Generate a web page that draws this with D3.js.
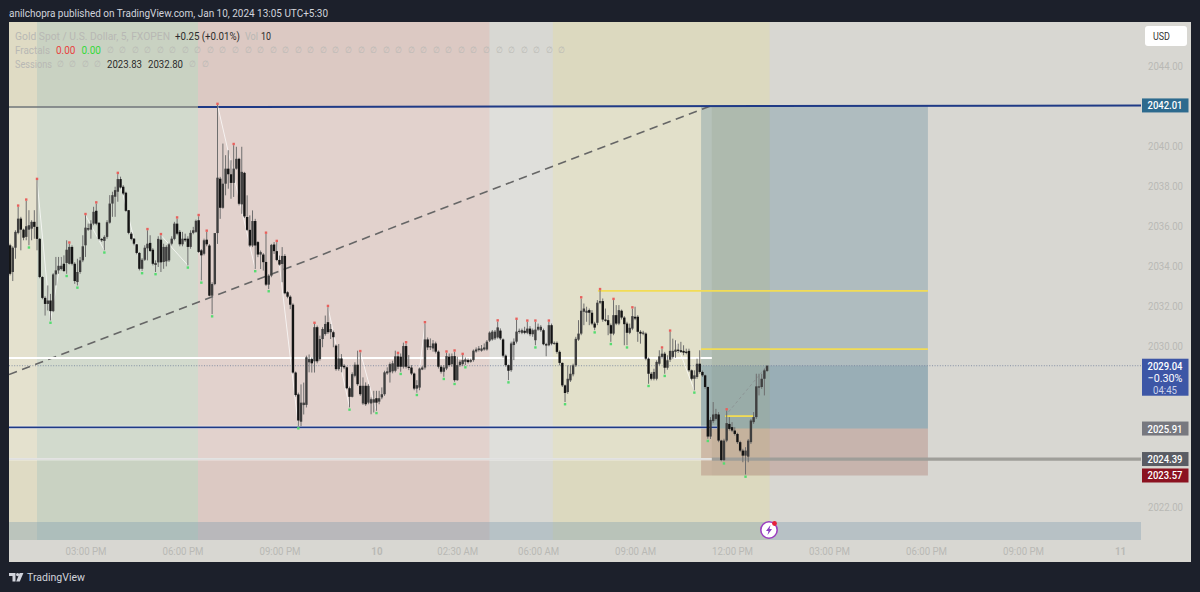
<!DOCTYPE html>
<html><head><meta charset="utf-8">
<script src="https://cdn.jsdelivr.net/npm/d3@7"></script>
<style>html,body{margin:0;padding:0;background:#1c202b;overflow:hidden}svg{display:block}text{font-family:Roboto,"Noto Sans",sans-serif}</style>
</head><body><svg id="c" width="1200" height="592"></svg>
<script>
// ---- data: 5-minute bars of XAUUSD, first bar index = 1
const opens=[2035.04,2033.71,2034.92,2035.66,2036.37,2035.82,2035.46,2035.82,2035.87,2036.21,
2035.96,2035.36,2033.46,2032.42,2032.12,2032.29,2031.76,2033.59,2033.79,2033.86,
2034.12,2034.16,2034.12,2034.96,2034.12,2033.21,2033.71,2034.29,2035.04,2035.82,
2035.82,2036.12,2036.76,2036.16,2035.36,2035.26,2035.46,2036.17,2037.12,2037.46,
2037.71,2038.34,2037.96,2037.66,2036.79,2035.62,2035.37,2035.09,2034.66,2033.87,
2034.32,2034.89,2035.16,2034.82,2034.06,2034.19,2035.32,2034.21,2034.24,2034.29,
2035.12,2035.36,2036.12,2035.71,2035.09,2035.37,2035.37,2034.96,2035.66,2035.71,
2036.29,2034.79,2034.62,2035.32,2035.03,2032.53,2033.11,2035.65,2038.36,2036.91,
2038.11,2038.86,2038.58,2038.15,2038.86,2039.35,2037.08,2038.65,2036.45,2035.81,
2035.03,2036.25,2035.2,2034.58,2034.58,2034.21,2033.08,2033.53,2035.08,2034.75,
2034.31,2034.11,2034.51,2032.7,2032.48,2032.08,2028.7,2027.61,2026.25,2027.08,
2027.09,2029.21,2029.37,2029.26,2030.96,2029.37,2030.37,2030.62,2031.21,2030.71,
2030.71,2030.04,2028.87,2029.4,2029.04,2028.96,2027.92,2027.49,2028.54,2029.09,
2028.04,2027.16,2028.04,2027.2,2027.16,2027.2,2027.42,2027.25,2027.46,2027.62,
2028.66,2028.71,2028.76,2028.79,2029.51,2029.49,2028.99,2030.02,2028.99,2028.95,
2028.65,2027.9,2027.95,2028.85,2028.95,2030.35,2029.95,2029.9,2030.15,2029.74,
2028.99,2028.74,2028.9,2029.49,2029.12,2029.52,2028.32,2029.07,2029.12,2029.24,
2029.32,2029.24,2029.32,2029.75,2029.82,2029.79,2029.85,2029.85,2030.29,2030.35,
2030.4,2030.45,2030.79,2030.35,2029.54,2029.07,2028.82,2030.07,2030.24,2030.73,
2030.68,2030.78,2030.68,2030.89,2030.61,2030.31,2030.84,2030.81,2030.81,2030.11,
2030.06,2031.06,2030.14,2030.18,2029.73,2029.18,2028.06,2027.73,2028.31,2028.61,
2029.06,2030.34,2030.64,2031.73,2031.68,2031.81,2031.68,2031.14,2031.18,2032.18,
2032.26,2031.34,2031.31,2031.06,2030.64,2031.56,2031.14,2031.78,2031.44,2031.14,
2030.68,2030.89,2031.48,2031.48,2030.73,2030.64,2030.64,2029.39,2028.64,2028.39,
2028.39,2029.14,2029.48,2029.64,2028.94,2029.34,2029.48,2029.73,2029.84,2029.81,
2029.78,2029.74,2029.78,2028.81,2028.39,2028.48,2029.14,2028.73,2028.56,2027.98,
2025.51,2026.28,2026.39,2026.61,2025.31,2024.34,2025.31,2026.14,2025.98,2025.81,
2025.64,2025.23,2024.81,2024.56,2024.51,2025.23,2026.23,2026.48,2027.98,2027.98,
2028.39,2028.78];
const closes=[2033.62,2034.92,2035.71,2036.37,2035.82,2035.42,2035.99,2036.04,2036.21,2035.96,
2035.36,2033.46,2032.42,2032.12,2032.29,2031.76,2033.59,2033.79,2034.02,2034.02,
2033.76,2034.82,2034.96,2034.12,2033.26,2033.71,2034.29,2034.99,2035.92,2035.9,
2036.12,2036.71,2036.12,2035.36,2035.29,2035.46,2036.19,2037.12,2037.54,2037.79,
2038.34,2037.92,2037.62,2036.76,2035.66,2035.36,2035.12,2034.66,2033.87,2034.32,
2034.92,2035.12,2034.76,2034.12,2034.16,2035.36,2034.19,2034.96,2034.96,2035.09,
2035.37,2036.12,2035.62,2035.09,2035.37,2035.29,2034.96,2035.66,2035.79,2036.26,
2034.71,2034.54,2035.29,2035.09,2032.53,2033.11,2035.65,2038.41,2036.91,2038.11,
2038.86,2038.58,2038.15,2038.86,2039.35,2037.11,2038.70,2036.48,2035.81,2035.03,
2036.25,2035.03,2034.58,2034.7,2034.2,2033.08,2033.53,2035.06,2034.75,2034.31,
2034.08,2034.51,2032.65,2032.48,2032.08,2028.7,2027.58,2026.31,2027.2,2027.2,
2029.46,2029.37,2029.16,2030.96,2029.26,2030.37,2030.87,2031.12,2030.71,2030.87,
2030.46,2028.87,2029.4,2028.99,2028.96,2027.92,2027.49,2028.62,2029.09,2028.12,
2027.62,2028.04,2027.12,2028.04,2027.37,2027.37,2027.2,2027.42,2027.62,2028.71,
2028.76,2029.12,2029.16,2029.51,2028.99,2028.99,2030.02,2028.99,2028.95,2028.65,
2027.9,2028.07,2028.9,2028.95,2030.35,2029.95,2030.02,2030.15,2029.74,2028.99,
2028.74,2028.95,2029.52,2029.07,2029.52,2028.32,2029.07,2029.24,2029.32,2029.35,
2029.22,2029.32,2029.79,2029.85,2029.9,2029.9,2029.95,2030.24,2030.69,2030.74,
2030.74,2030.95,2030.4,2029.54,2029.07,2028.79,2030.15,2030.24,2030.74,2030.78,
2030.81,2030.68,2030.89,2030.61,2030.81,2030.84,2030.98,2030.98,2030.11,2030.06,
2031.06,2030.14,2030.18,2029.73,2029.18,2028.06,2027.68,2028.39,2028.64,2029.06,
2030.38,2030.64,2031.78,2031.89,2031.78,2031.68,2031.14,2030.94,2032.18,2032.26,
2031.34,2031.31,2031.06,2030.64,2031.56,2031.14,2031.81,2031.44,2031.11,2030.68,
2030.93,2031.51,2031.39,2030.73,2030.64,2030.69,2029.39,2028.64,2028.39,2028.73,
2029.23,2029.51,2029.64,2028.94,2029.31,2029.78,2029.78,2029.84,2029.78,2029.73,
2029.69,2029.68,2028.81,2028.39,2028.56,2029.14,2028.73,2028.56,2027.98,2025.51,
2026.34,2026.61,2026.64,2025.31,2024.34,2025.31,2026.18,2025.89,2025.81,2025.64,
2025.23,2024.81,2024.56,2024.81,2025.31,2026.31,2026.48,2028.01,2028.01,2028.39,
2028.81,2029.04];
const highs=[2035.12,2034.99,2035.79,2036.96,2036.46,2035.87,2037.26,2036.79,2036.29,2036.79,
2038.29,2035.4,2033.5,2032.5,2033.04,2032.62,2033.65,2034.46,2034.46,2034.46,
2034.54,2035.29,2035.12,2035.04,2034.2,2034.37,2034.46,2035.54,2036.54,2036.12,
2036.29,2036.96,2037.12,2036.2,2035.4,2035.54,2036.29,2037.54,2037.71,2037.96,
2038.59,2038.46,2038.04,2037.71,2036.8,2035.7,2035.4,2035.1,2034.7,2034.4,
2035.04,2035.79,2035.54,2034.9,2034.29,2035.49,2035.54,2035.12,2035.04,2035.16,
2035.49,2036.21,2036.37,2035.8,2035.71,2035.62,2035.49,2035.79,2035.96,2036.32,
2036.49,2034.85,2035.37,2035.71,2035.1,2033.2,2033.2,2042.03,2038.45,2040.11,
2039.53,2039.78,2039.28,2040.03,2039.95,2039.4,2039.95,2038.7,2037.53,2036.53,
2036.78,2036.36,2035.25,2034.78,2034.65,2035.61,2033.6,2035.11,2035.2,2035.2,
2034.53,2034.95,2034.6,2032.75,2032.55,2032.15,2028.75,2027.7,2028.11,2028.2,
2029.54,2029.6,2029.45,2031.12,2031.04,2030.54,2030.96,2031.54,2031.96,2031.12,
2030.79,2030.1,2030.12,2029.62,2029.12,2029,2028,2028.71,2029.21,2029.79,
2029.71,2028.46,2028.21,2028.12,2027.46,2027.79,2027.79,2027.79,2027.96,2028.79,
2028.96,2029.2,2029.29,2029.79,2029.62,2029.65,2030.19,2030.15,2029.57,2029.07,
2028.7,2028.32,2028.95,2029.02,2031.15,2030.45,2030.4,2030.32,2030.24,2029.8,
2029.07,2029.07,2029.69,2029.65,2029.65,2029.74,2029.49,2029.32,2029.57,2029.45,
2029.4,2029.39,2029.85,2029.95,2030.02,2030.07,2030.15,2030.32,2030.75,2030.82,
2030.82,2031.24,2030.9,2030.4,2029.6,2029.1,2030.24,2030.4,2031.32,2030.89,
2030.89,2030.98,2031.23,2031.01,2030.89,2031.23,2031.14,2031.06,2030.89,2030.18,
2031.23,2031.14,2030.25,2030.25,2029.8,2029.2,2028.1,2029.06,2029.06,2029.14,
2030.48,2031.31,2032.39,2032.14,2031.98,2031.89,2031.81,2031.23,2032.31,2032.8,
2032.39,2031.89,2031.56,2031.14,2032.31,2032.06,2032.06,2031.84,2031.51,2031.23,
2031.14,2031.89,2031.98,2031.56,2030.81,2030.78,2030.7,2029.45,2028.73,2028.89,
2029.31,2029.81,2029.89,2029.73,2029.56,2030.73,2030.39,2030.31,2030.14,2030.23,
2030.06,2029.89,2029.89,2028.85,2028.81,2029.39,2029.81,2028.8,2028.6,2028,
2026.48,2027.23,2026.89,2026.73,2025.35,2025.4,2026.81,2026.48,2026.23,2025.98,
2025.7,2025.3,2024.9,2024.98,2025.39,2026.39,2026.73,2028.64,2028.64,2028.64,
2028.89,2029.06];
const lows=[2033.54,2033.26,2034.37,2035.59,2034.79,2035.29,2035.29,2035.04,2035.29,2035.37,
2034.79,2033.4,2032.35,2031.54,2031.79,2031.29,2031.71,2033.04,2033.62,2033.79,
2033.71,2033.62,2034.09,2034.04,2033.12,2033.04,2033.62,2034.2,2034.46,2035.76,
2035.37,2036.04,2036.04,2035.29,2035.21,2034.79,2035.37,2036.12,2036.46,2036.46,
2037.21,2037.87,2037.54,2036.71,2035.59,2035.29,2035.04,2034.59,2033.79,2033.76,
2034.26,2034.29,2034.71,2034.04,2033.71,2033.96,2033.71,2033.87,2033.99,2034.21,
2035.04,2035.29,2035.54,2034.99,2034.99,2035.21,2034.04,2034.87,2035.59,2035.66,
2034.66,2033.29,2034.54,2034.99,2032.5,2031.61,2033.05,2035.11,2036.36,2036.86,
2037.53,2037.86,2037.36,2037.45,2038.81,2037.03,2036.61,2036.4,2035.75,2034.95,
2034.95,2033.86,2034.45,2033.86,2033.78,2033.01,2032.86,2033.45,2034.61,2034.25,
2034.03,2033.2,2032.6,2032.4,2031.86,2028.65,2027.5,2026.03,2026.03,2026.61,
2026.96,2028.71,2028.7,2028.7,2029.16,2029.29,2029.96,2030.54,2030.62,2030.37,
2029.96,2028.79,2028.79,2028.71,2028.87,2027.87,2026.96,2027.46,2028.46,2028.04,
2027.54,2027.09,2027.04,2027.12,2026.62,2026.71,2026.79,2027.12,2027.37,2027.54,
2028.59,2028.2,2028.66,2028.71,2028.87,2028.74,2028.9,2028.9,2028.82,2028.57,
2027.82,2027.69,2027.82,2028.82,2028.85,2029.82,2029.82,2029.74,2029.65,2028.9,
2028.65,2028.49,2028.82,2028.99,2028.99,2028.24,2028.29,2028.99,2029.02,2029.07,
2029.15,2029.19,2029.24,2029.69,2029.75,2029.74,2029.79,2029.79,2030.22,2030.29,
2030.32,2030.39,2030.32,2029.45,2028.99,2028.32,2028.74,2029.32,2030.15,2030.64,
2030.61,2030.61,2030.61,2030.51,2030.48,2030.06,2030.78,2030.73,2030.06,2029.51,
2030.01,2030.06,2030.09,2029.64,2029.06,2027.98,2027.23,2027.64,2028.23,2028.51,
2028.98,2030.28,2030.56,2031.06,2031.23,2031.06,2031.06,2030.81,2031.06,2032.11,
2031.23,2031.23,2030.56,2030.23,2030.56,2031.06,2031.06,2031.34,2030.06,2030.06,
2030.61,2030.81,2031.31,2030.23,2030.14,2030.56,2029.31,2028.14,2028.31,2028.31,
2028.31,2029.06,2029.39,2028.64,2028.84,2029.23,2029.39,2029.44,2029.68,2029.68,
2029.56,2029.61,2028.73,2028.31,2027.81,2028.39,2028.64,2028.48,2027.89,2025.4,
2025.39,2026.18,2026.31,2025.23,2024.28,2024.28,2025.23,2025.81,2025.73,2025.56,
2025.14,2024.73,2024.23,2023.62,2024.23,2025.14,2026.14,2026.39,2027.56,2027.89,
2027.56,2028.73];
const fractalHighBars=[4,7,11,23,29,33,41,52,57,63,71,74,78,84,96,100,114,119,131,145,148,155,163,166,169,182,189,193,196,201,213,220,225,232,243,246,267];
const fractalLowBars=[8,16,22,26,36,50,55,67,72,76,92,97,108,127,137,146,152,162,166,170,186,196,207,218,224,230,238,244,255,260,266,274];
const zigzagHighBars=[11,20,29,41,57,71,78,100,119,131,155,248];
const zigzagLowBars=[16,16,36,50,67,72,92,108,127,137,152,255];
const priceTicks=[2044,2040,2038,2036,2034,2032,2030,2022];
const timeTickBars=[29,65,101,137,167,197,233,269,305,341,377,413];
const timeTickLabels=["03:00 PM","06:00 PM","09:00 PM","10","02:30 AM","06:00 AM","09:00 AM","12:00 PM","03:00 PM","06:00 PM","09:00 PM","11"];
const sessionStarts=[0.6,11,70.75,179,202.5,283];
const sessionEnds=[11,70.75,179,202.5,283,420.8];
const sessionColors=["#dfdbc4","#c9d2c2","#dcc9c3","#d8d8d3","#dcd9bf","#d8d7d2"];
const legendRow1=["Gold Spot / U.S. Dollar, 5, FXOPEN","+0.25 (+0.01%)","Vol","10"];
const sessionValues=["2023.83","2032.80"];
const currentPrice=2029.04, stopPrice=2023.57, targetPrice=2042.01, entryPrice=2025.91, markPrice=2024.39;
const rangeHigh=2041.95, rangeLow=2024.39, whiteLevel=2029.43, blueLow=2025.97, topLineLeft=2041.93;
const yellowLevels=[2032.77,2029.87,2026.53];

// ---- scales
const left=9,right=1141,top0=22,chartBottom=540,panelBottom=562,panelRight=1191;
const x=d3.scaleLinear().domain([29,269]).range([85.5,85.5+240*2.694]);
const y=d3.scaleLinear().domain([2044,2022]).range([65.5,507]);
const svg=d3.select("#c");
const barIdx=d3.range(1,opens.length+1);
const barW=2.4;

// ---- panel
svg.append("rect").attr("x",left).attr("y",top0).attr("width",panelRight-left).attr("height",panelBottom-top0).attr("fill","#d8d7d2");
svg.append("defs").append("clipPath").attr("id","plot").append("rect").attr("x",left).attr("y",top0).attr("width",right-left).attr("height",chartBottom-top0);
const g=svg.append("g").attr("clip-path","url(#plot)");

// sessions
g.selectAll("rect.s").data(sessionColors).join("rect").attr("class","s")
 .attr("x",(d,i)=>x(sessionStarts[i])).attr("width",(d,i)=>x(sessionEnds[i])-x(sessionStarts[i]))
 .attr("y",top0).attr("height",chartBottom-top0).attr("fill",d=>d);
// light range band between the two liquidity levels
g.append("rect").attr("x",x(0.6)).attr("width",x(261.5)-x(0.6)).attr("y",y(rangeHigh)).attr("height",y(rangeLow)-y(rangeHigh)).attr("fill","#fff").attr("opacity",.18);
// bottom strip
g.append("rect").attr("x",left).attr("width",right-left).attr("y",522).attr("height",18).attr("fill","#7e9bb0").attr("opacity",.36);
// position tool
const posA=257.5,posB=341.7;
g.append("rect").attr("x",x(posA)).attr("width",x(posB)-x(posA)).attr("y",y(targetPrice)).attr("height",y(entryPrice)-y(targetPrice)).attr("fill","#4f7f95").attr("opacity",.3);
g.append("rect").attr("x",x(posA)).attr("width",x(posB)-x(posA)).attr("y",y(currentPrice)).attr("height",y(entryPrice)-y(currentPrice)).attr("fill","#4f7f95").attr("opacity",.22);
g.append("rect").attr("x",x(posA)).attr("width",x(posB)-x(posA)).attr("y",y(entryPrice)).attr("height",y(stopPrice)-y(entryPrice)).attr("fill","#9a5a50").attr("opacity",.28);
g.append("rect").attr("x",x(261.5)).attr("width",x(283)-x(261.5)).attr("y",y(targetPrice)).attr("height",y(stopPrice)-y(targetPrice)).attr("fill","#6a6a40").attr("opacity",.03);

function hline(p,a,b,col,w,extra){const l=g.append("line").attr("x1",x(a)).attr("x2",x(b)).attr("y1",y(p)).attr("y2",y(p)).attr("stroke",col).attr("stroke-width",w);if(extra)l.attr("stroke-dasharray",extra);return l;}
// dashed trend
g.append("line").attr("x1",x(0.6)).attr("y1",y(2028.6)).attr("x2",x(261.5)).attr("y2",y(targetPrice)).attr("stroke","#666").attr("stroke-width",1.6).attr("stroke-dasharray","8.5 5.5");
g.append("line").attr("x1",x(266.4)).attr("y1",y(yellowLevels[2])).attr("x2",x(282)).attr("y2",y(currentPrice)).attr("stroke","#8a8f90").attr("stroke-width",.8).attr("stroke-dasharray","3 2.5");
// levels
hline(whiteLevel,0.6,261.5,"#ffffff",2);
hline(markPrice,0.6,261.5,"#ffffff",2.2); hline(markPrice,0.6,261.5,"#a9a9a6",.7);
hline(markPrice,261.5,420.8,"#9f9e99",3.2);
hline(currentPrice,0.6,420.8,"#6f7d99",.8,"1 1.6");
hline(blueLow,0.6,263.5,"#ffffff",3.2).attr("opacity",.6);
hline(blueLow,0.6,263.5,"#1f3a86",1.8);
hline(topLineLeft,0.6,70.75,"#6f7478",1.6);
g.append("line").attr("x1",x(70.75)).attr("x2",x(420.8)).attr("y1",y(topLineLeft)).attr("y2",y(targetPrice)).attr("stroke","#1f3a86").attr("stroke-width",2);
hline(yellowLevels[0],219.2,341.7,"#f2dc55",1.8);
hline(yellowLevels[1],257.5,341.7,"#f2dc55",1.8);
hline(yellowLevels[2],266.4,277,"#f2dc55",1.8);

// zigzag swing connectors
g.selectAll("line.z").data(zigzagHighBars).join("line").attr("class","z")
 .attr("x1",d=>x(d)).attr("y1",d=>y(highs[d-1]))
 .attr("x2",(d,i)=>x(zigzagLowBars[i])).attr("y2",(d,i)=>y(lows[zigzagLowBars[i]-1]))
 .attr("stroke","#fff").attr("stroke-width",.9).attr("opacity",.8);

// candles
g.selectAll("line.w").data(barIdx).join("line").attr("class","w")
 .attr("x1",d=>x(d)).attr("x2",d=>x(d)).attr("y1",d=>y(highs[d-1])).attr("y2",d=>y(lows[d-1]))
 .attr("stroke","#6e6e6e").attr("stroke-width",1);
g.selectAll("rect.b").data(barIdx).join("rect").attr("class","b")
 .attr("x",d=>x(d)-barW/2).attr("width",barW)
 .attr("y",d=>y(Math.max(opens[d-1],closes[d-1])))
 .attr("height",d=>Math.max(1.2,Math.abs(y(opens[d-1])-y(closes[d-1]))))
 .attr("fill",d=>closes[d-1]>=opens[d-1]?"#3f3f3f":"#141414");

// fractals
g.selectAll("rect.fh").data(fractalHighBars).join("rect").attr("class","fh")
 .attr("x",d=>x(d)-1.2).attr("width",2.4).attr("y",d=>y(highs[d-1])-2.4).attr("height",2.4).attr("fill","#e8605c");
g.selectAll("rect.fl").data(fractalLowBars).join("rect").attr("class","fl")
 .attr("x",d=>x(d)-1.2).attr("width",2.4).attr("y",d=>y(lows[d-1])+1).attr("height",2.4).attr("fill","#55dc70");

// axes
const fade="#b9b9b5";
const ya=d3.axisRight(y).tickValues(priceTicks).tickFormat(d3.format(".2f")).tickSize(0).tickPadding(7);
const yg=svg.append("g").attr("transform",`translate(${right},0)`).call(ya);
yg.select(".domain").remove(); yg.selectAll("text").attr("fill",fade).attr("font-size",11).attr("font-family","Roboto").attr("textLength",35).attr("lengthAdjust","spacingAndGlyphs");
const xa=d3.axisBottom(x).tickValues(timeTickBars).tickFormat((d,i)=>timeTickLabels[i]).tickSize(0).tickPadding(7);
const xg=svg.append("g").attr("transform",`translate(0,${chartBottom})`).call(xa);
xg.select(".domain").remove();
xg.selectAll("text").attr("fill",fade).attr("font-size",11).attr("font-family","Roboto")
 .attr("font-weight",(d,i)=>/AM|PM/.test(timeTickLabels[i])?400:700)
 .attr("textLength",(d,i)=>/AM|PM/.test(timeTickLabels[i])?41:(timeTickLabels[i].length*5.6)).attr("lengthAdjust","spacingAndGlyphs");

// text helper: fitted width keeps the narrow look of the reference lettering
function fit(sel,w){return sel.attr("textLength",w).attr("lengthAdjust","spacingAndGlyphs");}

// price labels
function tag(p,label,col,h){
  svg.append("rect").attr("x",1142).attr("y",y(p)-h/2).attr("width",46.5).attr("height",h).attr("fill",col);
  fit(svg.append("text").attr("x",1165).attr("y",y(p)+4).attr("text-anchor","middle").attr("fill","#fff").attr("font-size",11.3).attr("font-weight",500).text(label),35);
}
tag(targetPrice,"2042.01","#2d6a8e",14);
tag(entryPrice,"2025.91","#77787f",14);
tag(markPrice,"2024.39","#5a5c64",14);
tag(stopPrice,"2023.57","#8b1220",14);
const cy=y(currentPrice);
svg.append("rect").attr("x",1142).attr("y",cy-7).attr("width",46.5).attr("height",37).attr("fill","#3d56a6");
["2029.04","−0.30%","04:45"].forEach((t,i)=>fit(svg.append("text").attr("x",1165).attr("y",cy+4+i*12).attr("text-anchor","middle").attr("fill",i==2?"#ccd3ea":"#fff").attr("font-size",11.3).attr("font-weight",i==0?500:400).text(t),[35,35,24][i]));

// USD button
svg.append("rect").attr("x",1145).attr("y",26).attr("width",42).attr("height",20).attr("rx",3).attr("fill","#fff");
fit(svg.append("text").attr("x",1153).attr("y",40).attr("fill","#333").attr("font-size",11).text("USD"),17);

// header / footer
fit(svg.append("text").attr("x",9).attr("y",17).attr("fill","#d1d4dc").attr("font-size",11.4).text("anilchopra published on TradingView.com, Jan 10, 2024 13:05 UTC+5:30"),319);
const logo=svg.append("g").attr("fill","#d1d4dc");
logo.append("path").attr("d","M9 573h6.5v8.5h-3v-5.5h-3.5z");
logo.append("circle").attr("cx",17.6).attr("cy",574.6).attr("r",1.6);
logo.append("path").attr("d","M19.6 573h3.8l-3.6 8.5h-3.6z");
fit(svg.append("text").attr("x",27).attr("y",581).attr("fill","#d1d4dc").attr("font-size",11.5).text("TradingView"),58);

// legend
function lt(xp,yp,t,c,w,anchor,fs){const s=svg.append("text").attr("x",xp).attr("y",yp).attr("fill",c).attr("font-size",fs||11).attr("text-anchor",anchor||"start").text(t);if(w)fit(s,w);return s;}
const faint="#b8b8b4",dark="#2c2c2c";
lt(15,39.5,legendRow1[0],faint,155); lt(175,39.5,legendRow1[1],dark,65); lt(245,39.5,legendRow1[2],faint,13); lt(261,39.5,legendRow1[3],dark,10);
lt(15,53.5,"Fractals",faint,35); lt(56,53.5,"0.00","#e8423f",19.5); lt(81.5,53.5,"0.00","#35d93a",19.5);
d3.range(37).forEach(k=>lt(110+k*12.55,53,"∅",faint,7,"middle",9));
lt(15,67.5,"Sessions",faint,37);
d3.range(4).forEach(k=>lt(60+k*12.5,67,"∅",faint,7,"middle",9));
lt(107,67.5,sessionValues[0],dark,35); lt(148,67.5,sessionValues[1],dark,35);
lt(192,67,"∅",faint,7,"middle",9); lt(205,67,"∅",faint,7,"middle",9);

// flash icon
const ic=svg.append("g").attr("transform","translate(769,530)");
ic.append("circle").attr("r",8.2).attr("fill","#fff").attr("stroke","#9c3fc0").attr("stroke-width",1.6);
ic.append("path").attr("d","M1.5 -5 L-3 1 H-0.5 L-1.5 5 L3 -1 H0.5 Z").attr("fill","#8a3fc0");
ic.append("circle").attr("cx",5.5).attr("cy",-6.5).attr("r",2.4).attr("fill","#e6203a");
</script></body></html>
